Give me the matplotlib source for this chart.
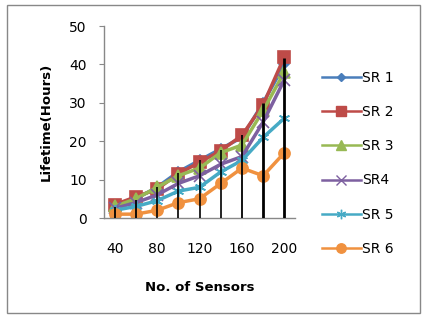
import matplotlib
matplotlib.use("Agg")
import matplotlib.pyplot as plt
from matplotlib.patches import Rectangle
from matplotlib.lines import Line2D

sensors = [40, 60, 80, 100, 120, 140, 160, 180, 200]
tick_labels = ["40", "", "80", "", "120", "", "160", "", "200"]
sr1 = [3, 5, 8, 12, 15, 18, 21, 30, 40]
sr2 = [3.5, 5.5, 7.5, 11.5, 14.5, 17.5, 21.5, 29.5, 42]
sr3 = [3, 5, 8, 11, 13, 17, 19, 28, 38]
sr4 = [2.5, 4, 6, 9, 11, 14, 16, 25, 36]
sr5 = [2, 3, 4.5, 7, 8, 12, 15, 21, 26]
sr6 = [1, 1, 2, 4, 5, 9, 13, 11, 17]
drop = [2.9, 4.8, 8.1, 11.7, 15, 17.7, 21.5, 29.9, 41.6]
drop_w = [1.3, 1.3, 1.2, 1.2, 1.2, 1.2, 1.3, 2.0, 2.0]

series = [
    ("SR 1", sr1, "#4A7EBB", "D", 5),
    ("SR 2", sr2, "#BE4B48", "s", 8),
    ("SR 3", sr3, "#98B954", "^", 8),
    ("SR4", sr4, "#7D60A0", "x", 8),
    ("SR 5", sr5, "#46AAC5", (6, 2, 0), 8),
    ("SR 6", sr6, "#F0913F", "o", 8),
]

fig = plt.figure(figsize=(4.26, 3.18), dpi=100)
fig.patches.append(Rectangle((7/426, 5/318), 413/426, 308/318, transform=fig.transFigure,
                             fill=False, edgecolor="#888888", linewidth=1.0))
ax = fig.add_axes([104/426, 100/318, 191/426, 192/318])

x = list(range(len(sensors)))
handles = []
for name, vals, col, mk, ms in series:
    ax.plot(x, vals, color=col, linewidth=2.5, marker=mk, markersize=ms,
            markeredgecolor=col, markerfacecolor=col, markeredgewidth=1.2)
    handles.append(Line2D([], [], color=col, linewidth=1.8, marker=mk, markersize=ms * 0.85,
                          markeredgecolor=col, markerfacecolor=col, markeredgewidth=1.0,
                          label=name))

for xi, d, w in zip(x, drop, drop_w):
    ax.vlines(xi, 0, d, colors="black", linewidth=w, zorder=5)

ax.set_xlim(-0.5, 8.5)
ax.set_ylim(0, 50)
ax.set_yticks([0, 10, 20, 30, 40, 50])
ax.set_xticks(x)
ax.set_xticklabels(tick_labels)
ax.tick_params(axis="x", length=0, pad=17, labelsize=10)
ax.tick_params(axis="y", length=3.5, color="#888888", labelsize=10, pad=9)
for s in ["top", "right"]:
    ax.spines[s].set_visible(False)
for s in ["left", "bottom"]:
    ax.spines[s].set_color("#888888")
    ax.spines[s].set_linewidth(1.0)

ax.set_ylabel("Lifetime(Hours)", fontsize=9.5, fontweight="bold", labelpad=12)
ax.set_xlabel("No. of Sensors", fontsize=9.5, fontweight="bold", labelpad=18)

fig.legend(handles=handles, loc="upper left", bbox_to_anchor=(322/426, 1 - 71/318),
           frameon=False, fontsize=10, labelspacing=1.45, handlelength=2.8,
           handletextpad=0.1, borderaxespad=0, borderpad=0)

fig.savefig("out.png", dpi=100)
